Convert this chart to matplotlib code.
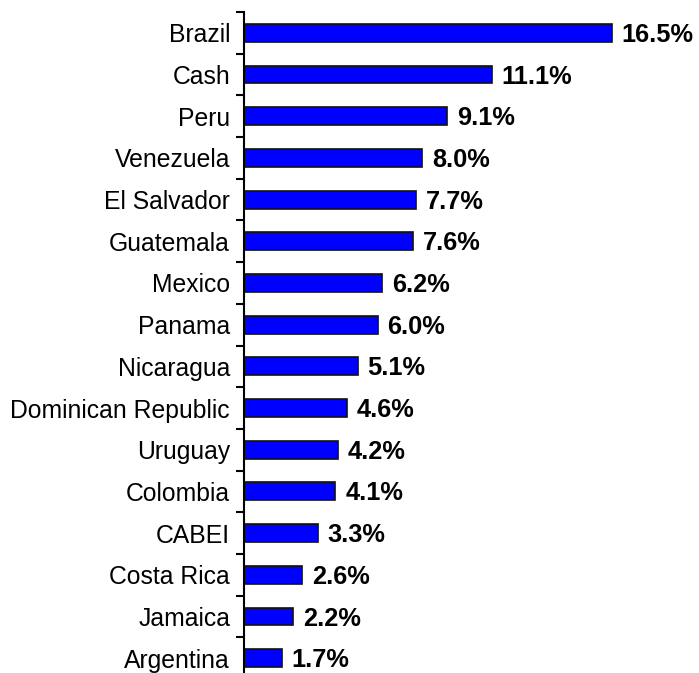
import matplotlib
matplotlib.use("Agg")
import matplotlib.pyplot as plt
import numpy as np

categories = ["Brazil", "Cash", "Peru", "Venezuela", "El Salvador", "Guatemala",
              "Mexico", "Panama", "Nicaragua", "Dominican Republic", "Uruguay",
              "Colombia", "CABEI", "Costa Rica", "Jamaica", "Argentina"]
values = [16.5, 11.1, 9.1, 8.0, 7.7, 7.6, 6.2, 6.0, 5.1, 4.6, 4.2, 4.1, 3.3, 2.6, 2.2, 1.7]
value_labels = [f"{v:.1f}%" for v in values]

plt.rcParams['font.family'] = ['Liberation Sans', 'DejaVu Sans']

fig = plt.figure(figsize=(6.99, 6.73), dpi=100)
ax = fig.add_axes([244/699, 1 - 679/673, 446/699, (679 - 12)/673])

y = np.arange(len(categories))
ax.barh(y, values, height=0.43, color="#0000FF", edgecolor="#111111", linewidth=1.2)
ax.set_ylim(len(categories) - 0.5, -0.5)
ax.set_xlim(0, 20)

for yi, v, lab in zip(y, values, value_labels):
    ax.annotate(lab, (v, yi), xytext=(7, -1.5), textcoords="offset points",
                ha="left", va="center", fontsize=18.3, fontweight="bold")

ax.set_yticks(y)
ax.set_yticklabels(categories, fontsize=17.8)
ax.tick_params(axis="y", which="major", length=0, pad=10)
ax.set_yticks(np.arange(-0.5, len(categories)), minor=True)
ax.tick_params(axis="y", which="minor", length=6, width=1.5, direction="out")
ax.set_xticks([])
for s in ["top", "right", "bottom"]:
    ax.spines[s].set_visible(False)
ax.spines["left"].set_linewidth(1.5)

fig.savefig("out.png", dpi=100)
